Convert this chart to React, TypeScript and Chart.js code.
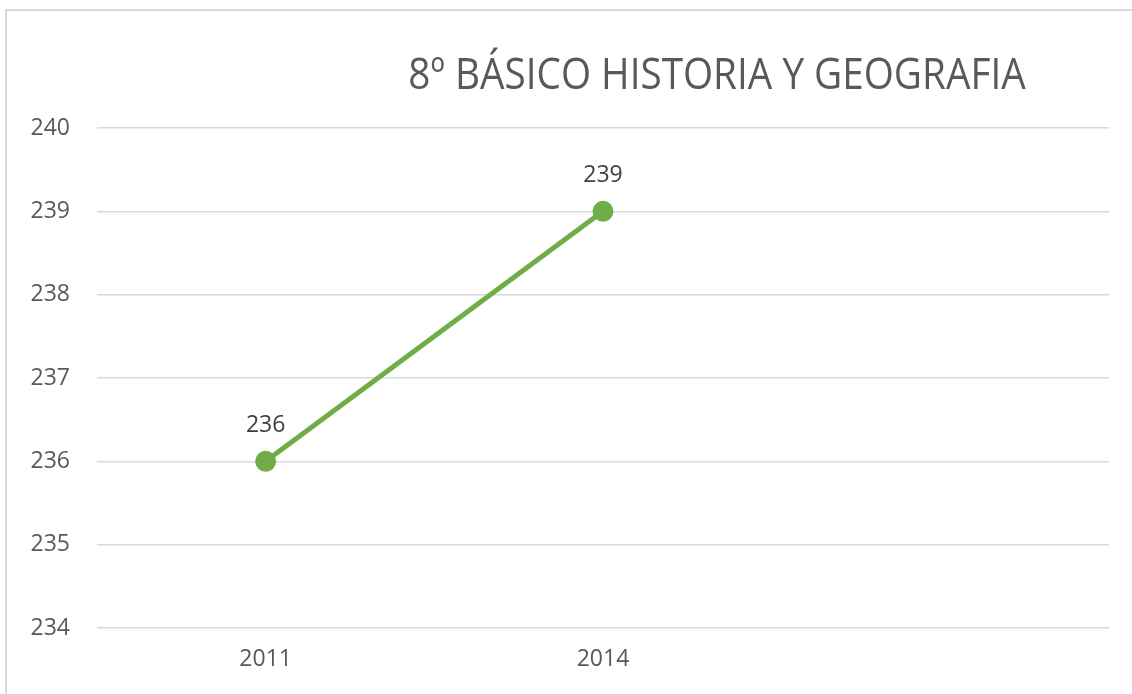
import React, { useEffect, useRef } from "react";
import { Chart, registerables } from "chart.js";

Chart.register(...registerables);

const TITLE = "8º BÁSICO HISTORIA Y GEOGRAFIA";
const categories = ["2011", "2014", ""];
const seriesValues = [236, 239, null];
const yMin = 234;
const yMax = 240;

const FONT = "'Open Sans', 'Noto Sans', sans-serif";

const titlePlugin = {
  id: "customTitle",
  afterDraw(chart: any) {
    const ctx = chart.ctx;
    ctx.save();
    ctx.font = `44px ${FONT}`;
    ctx.fillStyle = "#595959";
    ctx.textAlign = "center";
    ctx.textBaseline = "alphabetic";
    ctx.translate(717, 89);
    ctx.scale(0.88, 1);
    ctx.fillText(TITLE, 0, 0);
    ctx.restore();
  },
};

const valueLabels = {
  id: "valueLabels",
  afterDatasetsDraw(chart: any) {
    const ctx = chart.ctx;
    const meta = chart.getDatasetMeta(0);
    const data = chart.data.datasets[0].data;
    ctx.save();
    ctx.font = `23px ${FONT}`;
    ctx.fillStyle = "#404040";
    ctx.textAlign = "center";
    ctx.textBaseline = "alphabetic";
    meta.data.forEach((pt: any, i: number) => {
      const v = data[i];
      if (v === null || v === undefined) return;
      ctx.fillText(String(v), pt.x, pt.y - 29);
    });
    ctx.restore();
  },
};

export default function App() {
  const ref = useRef<HTMLCanvasElement>(null);
  useEffect(() => {
    if (!ref.current) return;
    const chart = new Chart(ref.current, {
      type: "line",
      data: {
        labels: categories,
        datasets: [
          {
            data: seriesValues,
            borderColor: "#70AD47",
            backgroundColor: "#70AD47",
            borderWidth: 5,
            pointRadius: 8,
            pointBackgroundColor: "#70AD47",
            pointBorderColor: "#70AD47",
            tension: 0,
          },
        ],
      },
      options: {
        animation: false,
        responsive: false,
        maintainAspectRatio: false,
        layout: { padding: { top: 128, right: 23, left: 0, bottom: 0 } },
        plugins: { legend: { display: false }, tooltip: { enabled: false }, title: { display: false } },
        scales: {
          x: {
            offset: true,
            grid: { display: false, drawTicks: false },
            border: { display: false },
            ticks: { color: "#595959", font: { family: FONT, size: 23 }, padding: 18, maxRotation: 0 },
            afterFit(scale: any) {
              scale.height = 66;
            },
          },
          y: {
            min: yMin,
            max: yMax,
            grid: { color: "#d9d9d9", lineWidth: 1.5, drawTicks: false },
            border: { display: false },
            ticks: { stepSize: 1, color: "#595959", font: { family: FONT, size: 23 }, padding: 27 },
            afterFit(scale: any) {
              scale.width = 97;
            },
          },
        },
      },
      plugins: [titlePlugin, valueLabels],
    });
    return () => chart.destroy();
  }, []);
  return (
    <div style={{ position: "fixed", left: 0, top: 0, width: 1132, height: 694, overflow: "hidden", background: "#fff" }}>
      <div
        style={{
          position: "absolute",
          left: 5,
          top: 9,
          width: 1300,
          height: 900,
          borderTop: "2px solid #d9d9d9",
          borderLeft: "2px solid #d9d9d9",
        }}
      />
      <canvas ref={ref} width={1132} height={694} style={{ position: "absolute", left: 0, top: 0 }} />
    </div>
  );
}
